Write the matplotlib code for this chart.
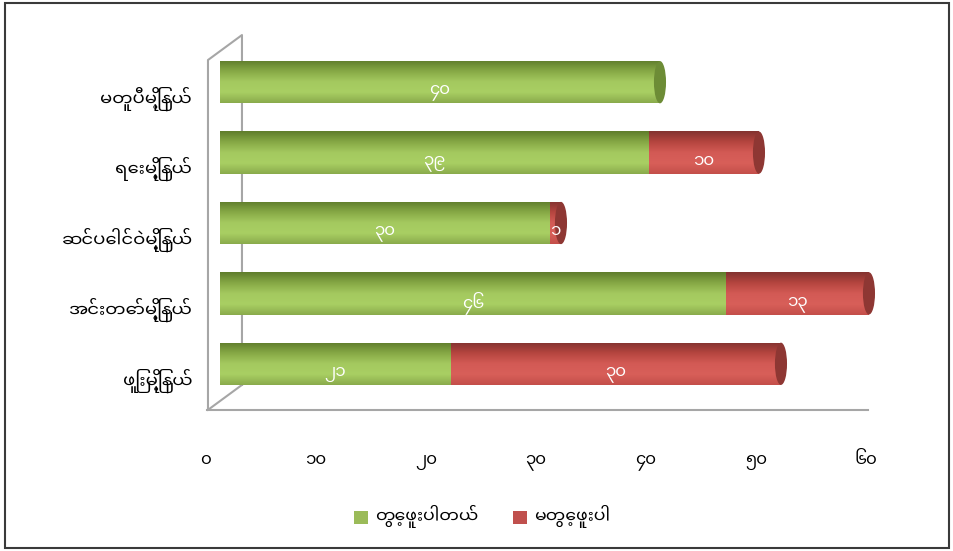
import numpy as np
import matplotlib
matplotlib.use("Agg")
import matplotlib.pyplot as plt
from matplotlib.patches import Patch, Ellipse, Rectangle
from matplotlib.lines import Line2D
from matplotlib.colors import LinearSegmentedColormap
from matplotlib.transforms import ScaledTranslation

plt.rcParams['font.family'] = ['Noto Sans Myanmar UI', 'DejaVu Sans']

# data, top row first
towns = ['မတူပီမြို့နယ်', 'ရေးမြို့နယ်', 'ဆင်ပေါင်ဝဲမြို့နယ်', 'အင်းတော်မြို့နယ်', 'ဖြူးမြို့နယ်']
seen = [40, 39, 30, 46, 21]
not_seen = [0, 10, 1, 13, 30]
series_names = ['တွေ့ဖူးပါတယ်', 'မတွေ့ဖူးပါ']
xticks = [0, 10, 20, 30, 40, 50, 60]
xtick_labels = ['၀', '၁၀', '၂၀', '၃၀', '၄၀', '၅၀', '၆၀']

MY_DIGITS = str.maketrans('0123456789', '၀၁၂၃၄၅၆၇၈၉')

green = '#9bbb59'
red = '#c0504d'
green_grad = LinearSegmentedColormap.from_list(
    'g', ['#8aab4c', '#a9cf63', '#a4c95f', '#86a845', '#5f7d2c'])
red_grad = LinearSegmentedColormap.from_list(
    'r', ['#c44f4a', '#d85f59', '#d35a55', '#b5453f', '#833330'])
green_cap = '#6d8c36'
red_cap = '#8e3733'

fig = plt.figure(figsize=(9.54, 5.51), dpi=100)
ax = fig.add_axes([0.2306, 0.2759, 0.6918, 0.6388])

ypos = np.arange(len(towns))[::-1]
h = 0.6
grad = np.linspace(0, 1, 100).reshape(-1, 1)

for i, y in enumerate(ypos):
    segs = [(0, seen[i], green_grad, green_cap), (seen[i], not_seen[i], red_grad, red_cap)]
    last = None
    for left, w, cm, capc in segs:
        if w <= 0:
            continue
        bar = ax.barh(y, w, left=left, height=h, color=cm(0.5), lw=0, zorder=3)[0]
        im = ax.imshow(grad, extent=[left, left + w, y + h / 2, y - h / 2],
                       aspect='auto', cmap=cm, zorder=3, interpolation='bilinear')
        im.set_clip_path(bar)
        lab = str(w).translate(MY_DIGITS)
        ax.text(left + w / 2, y - 0.13, lab, color='white', fontsize=12,
                ha='center', va='center', zorder=5)
        last = (left + w, capc)
    end, capc = last
    ax.add_patch(Ellipse((end, y), width=1.1, height=h, facecolor=capc,
                         edgecolor='none', zorder=4))

ax.set_xlim(0, 60)
ax.set_ylim(-0.5, 4.5)
ax.set_xticks(xticks)
ax.set_xticklabels(xtick_labels, fontsize=12)
ax.set_yticks(ypos)
ax.set_yticklabels(towns, fontsize=13)
ax.tick_params(length=0)
ax.tick_params(axis='x', pad=38)
ax.tick_params(axis='y', pad=20)
for lbl in ax.get_xticklabels():
    lbl.set_transform(lbl.get_transform() + ScaledTranslation(-0.14, 0, fig.dpi_scale_trans))
for lbl in ax.get_yticklabels():
    lbl.set_transform(lbl.get_transform() + ScaledTranslation(0, -0.14, fig.dpi_scale_trans))
for s in ax.spines.values():
    s.set_visible(False)
ax.patch.set_visible(False)

# pseudo 3d walls
wall = dict(color='#a6a6a6', lw=1.5, transform=ax.transAxes, clip_on=False, zorder=1)
ax.add_line(Line2D([-0.0182, -0.0182, 0.0333, 0.0333], [-0.031, 0.963, 1.034, 0.040], **wall))
ax.add_line(Line2D([-0.0182, 0.0333], [-0.031, 0.040], **wall))
ax.add_line(Line2D([-0.0197, 0.982], [-0.031, -0.031], **wall))

handles = [Patch(facecolor=green, edgecolor='none'), Patch(facecolor=red, edgecolor='none')]
fig.legend(handles, series_names, loc='center', bbox_to_anchor=(0.505, 0.062), ncol=2,
           frameon=False, fontsize=12.5, handlelength=0.8, handleheight=0.8,
           handletextpad=0.4, columnspacing=2.0)

fig.patches.append(Rectangle((0.005, 0.006), 0.99, 0.988, transform=fig.transFigure,
                             fill=False, edgecolor='#3a3a3a', lw=1.5))

fig.savefig('out.png', dpi=100)
